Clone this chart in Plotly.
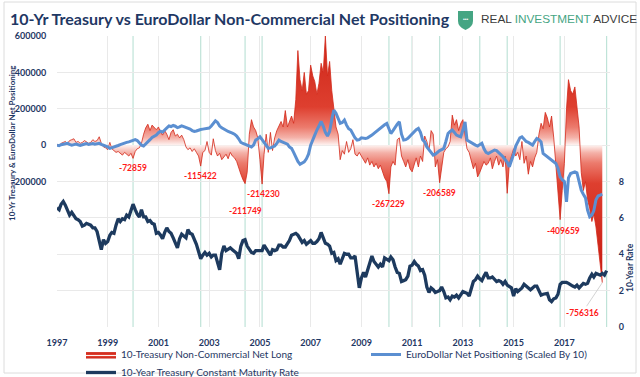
import plotly.graph_objects as go
import pandas as pd

# ---------------- data (monthly) ----------------
START = "1997-01-01"

# 10-Year Treasury Constant Maturity Rate (%), Jan 1997 .. Sep 2018
rate = [
    6.55, 6.45, 6.75, 6.90, 6.70, 6.45, 6.15, 6.30, 6.15, 5.95, 5.90, 5.80,
    5.55, 5.60, 5.70, 5.65, 5.60, 5.45, 5.45, 5.25, 4.70, 4.25, 4.80, 4.60,
    4.70, 5.05, 5.20, 5.15, 5.60, 5.95, 5.80, 5.95, 5.90, 6.15, 6.05, 6.35,
    6.75, 6.45, 6.20, 6.05, 6.45, 6.05, 6.05, 5.80, 5.85, 5.70, 5.65, 5.15,
    5.20, 5.05, 4.85, 5.20, 5.45, 5.25, 5.15, 4.90, 4.65, 4.35, 4.85, 5.10,
    5.00, 4.90, 5.35, 5.15, 5.10, 4.85, 4.55, 4.15, 3.75, 3.95, 4.10, 3.95,
    4.05, 3.85, 3.95, 3.95, 3.50, 3.15, 4.05, 4.45, 4.20, 4.30, 4.35, 4.25,
    4.15, 4.05, 3.75, 4.45, 4.75, 4.80, 4.45, 4.25, 4.10, 4.05, 4.20, 4.20,
    4.20, 4.20, 4.50, 4.30, 4.10, 3.95, 4.25, 4.20, 4.25, 4.50, 4.50, 4.40,
    4.40, 4.55, 4.75, 5.05, 5.10, 5.15, 5.05, 4.85, 4.65, 4.75, 4.55, 4.65,
    4.75, 4.60, 4.60, 4.70, 4.85, 5.20, 4.95, 4.60, 4.55, 4.45, 4.05, 4.10,
    3.65, 3.75, 3.45, 3.75, 4.05, 4.00, 4.00, 3.80, 3.80, 3.90, 3.00, 2.15,
    2.70, 3.00, 2.75, 3.15, 3.45, 3.90, 3.60, 3.45, 3.30, 3.45, 3.30, 3.80,
    3.70, 3.65, 3.85, 3.70, 3.30, 3.00, 2.95, 2.50, 2.55, 2.60, 2.80, 3.35,
    3.40, 3.60, 3.45, 3.35, 3.10, 3.15, 2.85, 2.20, 1.90, 2.15, 2.05, 1.90,
    1.95, 2.00, 2.20, 1.95, 1.60, 1.65, 1.50, 1.70, 1.65, 1.75, 1.60, 1.75,
    1.95, 1.90, 1.85, 1.70, 2.10, 2.50, 2.60, 2.80, 2.65, 2.55, 2.80, 3.00,
    2.70, 2.70, 2.75, 2.65, 2.50, 2.55, 2.50, 2.35, 2.50, 2.30, 2.20, 2.15,
    1.70, 2.10, 1.95, 2.05, 2.15, 2.35, 2.25, 2.15, 2.05, 2.15, 2.25, 2.25,
    2.00, 1.75, 1.80, 1.85, 1.85, 1.50, 1.40, 1.55, 1.60, 1.80, 2.35, 2.45,
    2.45, 2.45, 2.40, 2.30, 2.25, 2.20, 2.30, 2.15, 2.30, 2.40, 2.35, 2.40,
    2.70, 2.90, 2.75, 2.95, 2.90, 2.85, 2.95, 2.85, 3.10,
]

# EuroDollar net positioning (scaled by 10), thousands of contracts, Jan 1997 .. Jul 2018
eurodollar_k = [
    0, -3, 2, 5, 8, 10, 4, 0, 3, 6, 2, -2,
    2, 5, 8, 4, 6, 9, 5, 8, 10, 4, 0, -5,
    -10, -18, -15, -12, -6, -2, 3, 8, 12, 15, 18, 22,
    27, 30, 25, 12, 0, -5, 5, 18, 30, 42, 48, 55,
    68, 76, 72, 85, 98, 105, 102, 108, 104, 96, 100, 106,
    102, 98, 94, 88, 80, 75, 78, 83, 86, 88, 90, 92,
    94, 105, 120, 134, 125, 105, 95, 90, 82, 75, 72, 66,
    60, 50, 35, 15, 9, 5, 0, -5, -10, 0, 28, 35,
    46, 30, 15, 0, -18, -15, -10, -5, 10, 28, 20, 15,
    10, 5, -10, -18, -40, -70, -90, -105, -100, -92, -75, -50,
    0, 25, 55, 83, 110, 130, 105, 70, 50, 75, 140, 193,
    175, 140, 120, 125, 138, 110, 90, 83, 60, 40, 28, 30,
    40, 38, 37, 40, 46, 55, 65, 75, 83, 95, 105, 112,
    119, 90, 64, 80, 101, 115, 128, 60, 28, 30, 37, 50,
    60, 73, 85, 92, 70, 30, 18, -10, -27, -45, -55, -50,
    -37, -30, -25, -18, 20, 64, 75, 83, 70, 55, 50, 46,
    83, 128, 28, 20, 15, 8, 0, -5, 5, 10, -20, -40,
    -46, -40, -30, -27, -30, -40, -50, -64, -80, -95, -119, -90,
    -50, -5, 20, 40, 46, 30, 20, 15, 5, 0, 20, 37,
    30, 18, -46, -55, -65, -73, -80, -90, -101, -128, -174, -190,
    -200, -312, -180, -156, -150, -147, -152, -200, -248, -270, -290, -357,
    -394, -385, -360, -300, -280, -275, -270,
]

# 10-Yr Treasury non-commercial net long, thousands of contracts, Jan 1997 .. Jul 2018
treasury_k = [
    5, -5, 10, 15, 20, 10, 25, 30, 35, 15, 20, 10,
    15, 25, 20, 10, 15, 30, 20, 25, 46, 10, -10, -15,
    -25, 15, -20, -30, -40, -35, -45, -55, -40, -50, -60, -45,
    -72.859, -35, -20, -15, 10, 60, 95, 115, 80, 110, 100, 85,
    100, 70, 55, 80, 60, 30, 70, 85, 50, 60, 40, 55,
    30, -10, -25, -15, -35, -20, -40, -60, -115.422, -40, -30, 20,
    -40, -55, 35, -30, -60, -45, -80, -65, -50, -75, -40, -60,
    -70, -90, -130, -160, -190, -211.749, -150, 60, 140, 100, 80, 40,
    -80, -214.230, -50, 60, -40, 70, -30, 40, 80, 110, 130, 100,
    190, 100, 130, 160, 120, 250, 520, 360, 300, 400, 280, 300,
    440, 380, 350, 280, 340, 450, 400, 600, 380, 460, 300, 200,
    100, 60, -80, -30, -50, 20, -40, -20, 30, -50, -60, -40,
    -60, -80, -100, -70, -110, -90, -120, -100, -130, -110, -150, -180,
    -200, -267.229, -120, -90, -110, 30, 40, -60, -90, -120, -80, -130,
    -147, -100, -70, -120, -60, -90, 50, 20, -30, 80, 60, -120,
    -80, -206.589, -120, -40, -20, -10, 20, 165, 110, 140, 80, 120,
    140, 60, -20, -40, -80, -130, -100, -175, -150, -120, -90, -110,
    -100, -70, -130, -90, -60, -110, -80, -120, -60, -265, -100, -60,
    -20, -60, -40, -80, 20, -100, -60, -160, -90, -120, -70, -40,
    60, 120, 90, 180, 150, 100, 160, 40, -120, -300, -409.659, -250,
    -100, 200, 360, 300, 280, 320, 200, 100, -150, -250, -200, -300,
    -350, -420, -380, -450, -550, -650, -756.316,
]

# labelled extreme short positions
label_dates = ["2000-01-01", "2002-09-01", "2004-06-01", "2005-02-01",
               "2010-02-01", "2012-02-01", "2016-11-01", "2018-07-01"]
label_values_k = [-72.859, -115.422, -211.749, -214.230,
                  -267.229, -206.589, -409.659, -756.316]
label_texts = ["-72859", "-115422", "-211749", "-214230",
               "-267229", "-206589", "-409659", "-756316"]

# vertical marker lines
marker_dates = ["2000-01-01", "2002-09-01", "2004-06-01", "2005-02-01", "2010-02-01",
                "2011-01-01", "2012-02-01", "2013-09-01", "2014-10-01", "2016-11-01",
                "2018-09-01"]

left_tickvals = [-1000, -800, -600, -400, -200, 0, 200, 400, 600]
left_ticktext = ["", "", "", "", "-200000", "0", "200000", "400000", "600000"]
right_tickvals = [0, 2, 4, 6, 8]

dates_rate = pd.date_range(START, periods=len(rate), freq="MS")
dates_pos = pd.date_range(START, periods=len(treasury_k), freq="MS")

# ---------------- styling ----------------
W, H = 640, 377
ML, MR, MT, MB = 57, 30, 36, 50
PW, PH = W - ML - MR, H - MT - MB
NAVY = "#1f3864"
FONT = "Lato, Liberation Sans, sans-serif"


def pxx(x):
    return (x - ML) / PW


def pxy(y):
    return (H - MB - y) / PH


fig = go.Figure()

fig.add_trace(go.Scatter(
    x=dates_pos, y=treasury_k, name="10-Treasury Non-Commercial Net Long",
    mode="lines", line=dict(color="#d3291b", width=0.8, shape="linear"),
    fill="tozeroy", legend="legend",
    fillgradient=dict(type="vertical", start=-700, stop=700, colorscale=[
        [0.0, "#c81e12"], [0.35, "#de3f2f"], [0.43, "#ec7b6d"], [0.47, "#f4b1a8"],
        [0.5, "#fef3f1"],
        [0.53, "#f4b1a8"], [0.57, "#ec7b6d"], [0.65, "#de3f2f"], [1.0, "#c81e12"]]),
))
fig.add_trace(go.Scatter(
    x=dates_pos, y=eurodollar_k, name="EuroDollar Net Positioning (Scaled By 10)",
    mode="lines", line=dict(color="#5b8fd1", width=3), legend="legend2",
))
fig.add_trace(go.Scatter(
    x=dates_rate, y=rate, name="10-Year Treasury Constant Maturity Rate",
    mode="lines", line=dict(color="#1d3a5e", width=3.3), yaxis="y2", legend="legend3",
))

shapes = []
for d in marker_dates:
    shapes.append(dict(type="line", xref="x", yref="paper", x0=d, x1=d, y0=0, y1=1,
                       line=dict(color="#bfe3d8", width=1.2), layer="below"))
# outer chart border
shapes.append(dict(type="rect", xref="paper", yref="paper",
                   x0=pxx(4), x1=pxx(636), y0=pxy(373), y1=pxy(2),
                   line=dict(color="#dcdcdc", width=1), layer="below"))
# logo shield
shield = (f"M {pxx(458)},{pxy(11)} L {pxx(473)},{pxy(11)} L {pxx(473)},{pxy(21)} "
          f"Q {pxx(473)},{pxy(27)} {pxx(465.5)},{pxy(30)} Q {pxx(458)},{pxy(27)} {pxx(458)},{pxy(21)} Z")
shapes.append(dict(type="path", xref="paper", yref="paper", path=shield,
                   fillcolor="#45a583", line=dict(color="#45a583", width=0)))

annotations = []
shifts = {"-211749": (0, -27), "-409659": (3, -11), "-214230": (1, -10)}
LABEL_FONT = dict(family=FONT, size=8.5, color="#ff1a1a", weight="bold")
for d, v, t in zip(label_dates, label_values_k, label_texts):
    if t == "-756316":
        annotations.append(dict(x=d, y=v, xref="x", yref="y", text=t, showarrow=True,
                                arrowhead=0, arrowwidth=0.8, arrowcolor="#c8c8c8",
                                ax=-20, ay=30, standoff=0, font=LABEL_FONT))
    else:
        xs, ys = shifts.get(t, (0, -10))
        annotations.append(dict(x=d, y=v, xref="x", yref="y", text=t, showarrow=False,
                                xshift=xs, yshift=ys, xanchor="center", yanchor="middle",
                                font=LABEL_FONT))


def paper_text(x, y, text, font, xanchor="center", angle=0):
    annotations.append(dict(xref="paper", yref="paper", x=pxx(x), y=pxy(y), text=text,
                            showarrow=False, xanchor=xanchor, yanchor="middle",
                            textangle=angle, font=font))


paper_text(12, 143, "10-Yr Treasury & EuroDollar Net Positioning",
           dict(family=FONT, size=8, color=NAVY, weight="bold"), angle=-90)
paper_text(630, 268, "10-Year Rate",
           dict(family=FONT, size=8.5, color=NAVY, weight="bold"), angle=-90)
paper_text(8, 19, "10-Yr Treasury vs EuroDollar Non-Commercial Net Positioning",
           dict(family=FONT, size=16, color=NAVY, weight="bold"), xanchor="left")
paper_text(479, 19, "REAL <span style='color:#45a583'>INVESTMENT</span> ADVICE",
           dict(family="Liberation Sans, Arial, sans-serif", size=11.8, color="#3b3b3b"),
           xanchor="left")
paper_text(465.5, 19, "•••", dict(family="Liberation Sans, sans-serif", size=5, color="white"))

TICK_FONT = dict(family=FONT, size=9, color=NAVY, weight="bold")
LEGEND_FONT = dict(family=FONT, size=10, color=NAVY)


def legend_box(x, y):
    return dict(orientation="v", x=pxx(x), y=pxy(y), xanchor="left", yanchor="top",
                itemwidth=30, font=LEGEND_FONT, bgcolor="rgba(0,0,0,0)", tracegroupgap=0)


fig.update_layout(
    width=W, height=H, margin=dict(l=ML, r=MR, t=MT, b=MB, autoexpand=False),
    paper_bgcolor="white", plot_bgcolor="white",
    font=dict(family=FONT, color=NAVY),
    showlegend=True,
    legend=legend_box(81, 340),
    legend2=legend_box(366, 340),
    legend3=legend_box(81, 358),
    xaxis=dict(type="date", range=["1997-01-01", "2018-10-20"], tick0="1997-01-01",
               dtick="M24", tickformat="%Y", showgrid=True, gridcolor="#e9e9e9",
               gridwidth=1, zeroline=False, showline=False,
               ticks="outside", ticklen=7, tickcolor="rgba(0,0,0,0)", tickfont=TICK_FONT),
    yaxis=dict(range=[-1000, 600], tickvals=left_tickvals, ticktext=left_ticktext,
               showgrid=True, gridcolor="#e9e9e9", zeroline=False, showline=False,
               ticks="outside", ticklen=8, tickcolor="rgba(0,0,0,0)", tickfont=TICK_FONT),
    yaxis2=dict(range=[0, 16], tickvals=right_tickvals, overlaying="y", side="right",
                showgrid=False, zeroline=False, showline=False,
                ticks="outside", ticklen=6, tickcolor="rgba(0,0,0,0)", tickfont=TICK_FONT),
    shapes=shapes, annotations=annotations,
)

fig.write_html("out.html", config={"displayModeBar": False},
               post_script="document.body.style.margin='0';")
